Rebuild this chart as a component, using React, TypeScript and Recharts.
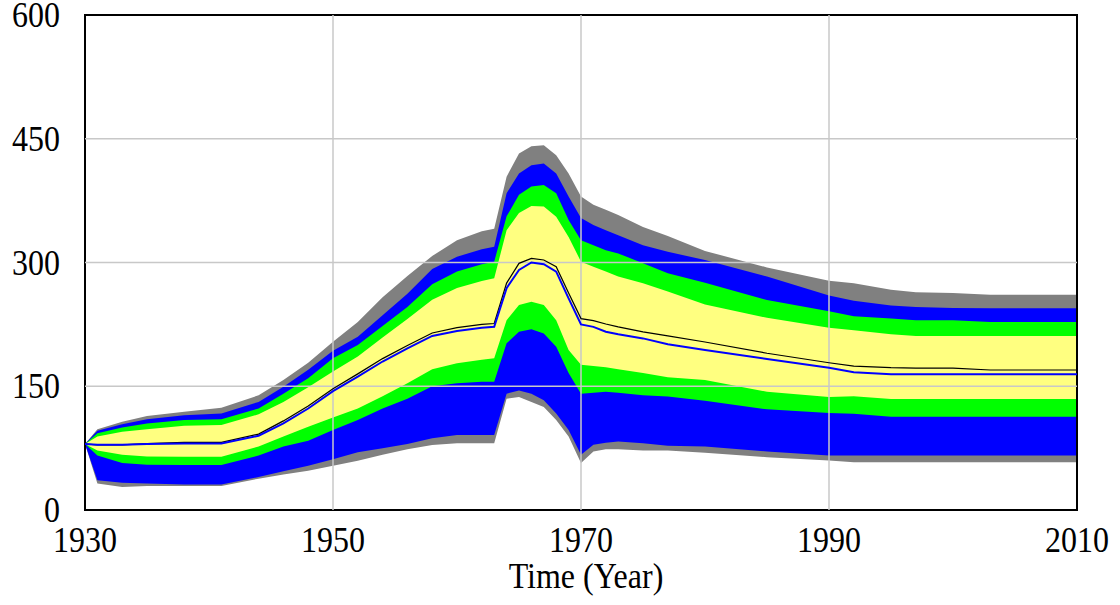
import React from "react";
import {
  ComposedChart,
  Area,
  Line,
  XAxis,
  YAxis,
  ReferenceLine,
  ReferenceArea,
} from "recharts";

const years = [
  1930, 1931, 1933, 1935, 1938, 1941, 1944, 1946, 1948, 1950, 1952, 1954, 1956, 1958, 1960,
  1962, 1963, 1964, 1965, 1966, 1967, 1968, 1969, 1970, 1971, 1972, 1973, 1975, 1977, 1980,
  1985, 1990, 1992, 1995, 1997, 2000, 2003, 2005, 2010,
];

// outer band (100%) - gray
const grayLo = [
  80, 32, 28, 29, 29, 29, 38, 43, 47.7, 53.7, 59.8, 67, 73.5, 78.8, 80.8,
  80.8, 80.8, 135, 137, 131, 125, 109, 89, 57, 71, 73.5, 73.5, 72, 72, 69.5,
  64, 60, 58, 58, 58, 58, 58, 58, 58,
];
const grayHi = [
  80, 98, 107, 114, 119, 124, 139, 157.6, 178.6, 204, 228, 258, 283.6, 308, 327,
  338, 341, 404, 432, 441, 442, 430, 408, 380, 370, 364, 357.6, 343, 332, 314,
  294, 278, 274.7, 267, 264, 263, 261, 261, 261,
];
// 95% - blue
const blueLo = [
  80, 36, 33, 32, 31, 31, 40, 47, 53.7, 61.4, 70, 74.7, 80, 87, 91,
  91, 91, 141, 145, 141, 133, 117, 97, 67, 79, 81.6, 83, 81, 78, 77,
  71, 66, 66, 66, 66, 66, 66, 66, 66,
];
const blueHi = [
  80, 96, 104, 110, 115, 117, 131, 149.5, 170, 193, 210, 236, 262, 292, 307,
  316, 319, 384, 408, 418, 420, 408, 380, 354, 345.5, 339, 333, 321, 313, 303,
  283, 260, 253.7, 248, 246, 245, 244.4, 244.4, 244.4,
];
// 75% - green
const greenLo = [
  80, 66, 57, 55, 54.5, 54.5, 66, 77, 84, 97, 109, 123, 135, 150, 153.5,
  155.5, 155.5, 202, 216, 219, 214, 198, 166, 141, 142, 143.4, 142, 139, 137.5, 132.5,
  122, 117.5, 116.8, 113, 113, 113, 113, 113, 113,
];
const greenHi = [
  80, 93, 100, 105, 109, 110, 123, 141, 159.6, 184, 200, 223, 246, 273.5, 289,
  298, 301, 356, 382, 392, 394, 384, 351.5, 327, 321, 315, 311, 299, 287, 275.5,
  254.5, 241, 235, 232, 230, 230, 228, 228, 228,
];
// 50% - yellow
const yellowLo = [
  80, 72, 67, 65, 64.5, 64.5, 77, 89, 101, 112, 123, 138, 153.5, 170.5, 178,
  182, 184, 230, 248.5, 252.5, 248.5, 230, 194, 176, 174.5, 173, 170.5, 166, 161, 157.6,
  143.4, 137, 137.8, 134.5, 134.5, 134.5, 134.5, 134.5, 134.5,
];
const yellowHi = [
  80, 89, 95, 98, 102, 103, 116, 131, 148.7, 168, 186, 209, 231.5, 255, 269,
  277.6, 281, 339, 360, 368.5, 368, 355.5, 331, 301, 295, 289, 283, 275, 265, 249,
  233, 221, 217.8, 213, 211, 211, 211, 211, 211,
];
// single runs
const baseRun = [
  80, 79, 79, 80.5, 82, 82, 92, 108, 126, 147, 165, 183.5, 199.5, 214.5, 221,
  225, 226, 275, 299, 305, 303, 295, 263, 232, 229.5, 225.5, 222, 216, 211, 203.6,
  190, 178.5, 174.5, 172.5, 172, 172, 169.7, 169.7, 169.7,
];
const median = [
  80, 79, 79, 80, 80.5, 80.5, 90, 105, 123, 144, 161.6, 180, 196, 211, 217,
  221, 222, 269, 291, 300, 298, 289, 256.6, 225, 222, 216, 213, 208, 201, 194,
  183, 172.5, 167, 164.4, 164.4, 164.4, 164.4, 164.4, 164.4,
];

const xTicks = [1930, 1950, 1970, 1990, 2010];
const yTicks = [0, 150, 300, 450, 600];

const data = years.map((year, i) => ({
  year,
  gray: [grayLo[i], grayHi[i]],
  blue: [blueLo[i], blueHi[i]],
  green: [greenLo[i], greenHi[i]],
  yellow: [yellowLo[i], yellowHi[i]],
  baseRun: baseRun[i],
  median: median[i],
}));

const FONT = '"Liberation Serif", "Times New Roman", serif';
const STRETCH = 1.1;

function XTick({ x, y, payload }: any) {
  return (
    <text
      transform={`translate(${x},${y + 42}) scale(1,${STRETCH})`}
      textAnchor="middle"
      fontFamily={FONT}
      fontSize={32}
      fill="#000"
    >
      {payload.value}
    </text>
  );
}

function YTick({ x, y, payload }: any) {
  return (
    <text
      transform={`translate(${x},${y + 12}) scale(1,${STRETCH})`}
      textAnchor="end"
      fontFamily={FONT}
      fontSize={32}
      fill="#000"
    >
      {payload.value}
    </text>
  );
}

function TimeLabel({ viewBox }: any) {
  const cx = viewBox.x + viewBox.width / 2 + 5;
  return (
    <text
      transform={`translate(${cx},${viewBox.y + 78}) scale(1,${STRETCH})`}
      textAnchor="middle"
      fontFamily={FONT}
      fontSize={32}
      fill="#000"
    >
      Time (Year)
    </text>
  );
}

const bands = [
  { key: "gray", color: "#808080" },
  { key: "blue", color: "#0000ff" },
  { key: "green", color: "#00ff00" },
  { key: "yellow", color: "#ffff80" },
];

export default function App() {
  return (
    <div style={{ position: "absolute", left: 0, top: 0 }}>
      <ComposedChart
        width={1120}
        height={605}
        data={data}
        margin={{ top: 15, right: 43, bottom: 0, left: 0 }}
      >
        <XAxis
          dataKey="year"
          type="number"
          domain={[1930, 2010]}
          ticks={xTicks}
          tick={<XTick />}
          tickSize={0}
          tickMargin={0}
          tickLine={false}
          axisLine={false}
          height={95}
          label={<TimeLabel />}
          allowDataOverflow
        />
        <YAxis
          type="number"
          domain={[0, 600]}
          ticks={yTicks}
          tick={<YTick />}
          tickSize={0}
          tickMargin={25}
          tickLine={false}
          axisLine={false}
          width={85}
          allowDataOverflow
        />
        {bands.map((b) => (
          <Area
            key={b.key}
            dataKey={b.key}
            type="linear"
            stroke="none"
            fill={b.color}
            fillOpacity={1}
            dot={false}
            activeDot={false}
            isAnimationActive={false}
          />
        ))}
        {xTicks.slice(1, -1).map((t) => (
          <ReferenceLine key={"x" + t} x={t} stroke="#c8c8c8" strokeWidth={1.5} />
        ))}
        {yTicks.slice(1, -1).map((t) => (
          <ReferenceLine key={"y" + t} y={t} stroke="#c8c8c8" strokeWidth={1.5} />
        ))}
        <Line
          dataKey="baseRun"
          type="linear"
          stroke="#000000"
          strokeWidth={1.2}
          dot={false}
          activeDot={false}
          isAnimationActive={false}
        />
        <Line
          dataKey="median"
          type="linear"
          stroke="#0000ff"
          strokeWidth={2}
          dot={false}
          activeDot={false}
          isAnimationActive={false}
        />
        <ReferenceArea
          x1={1930}
          x2={2010}
          y1={0}
          y2={600}
          fill="none"
          stroke="#000000"
          strokeWidth={2}
        />
      </ComposedChart>
    </div>
  );
}
